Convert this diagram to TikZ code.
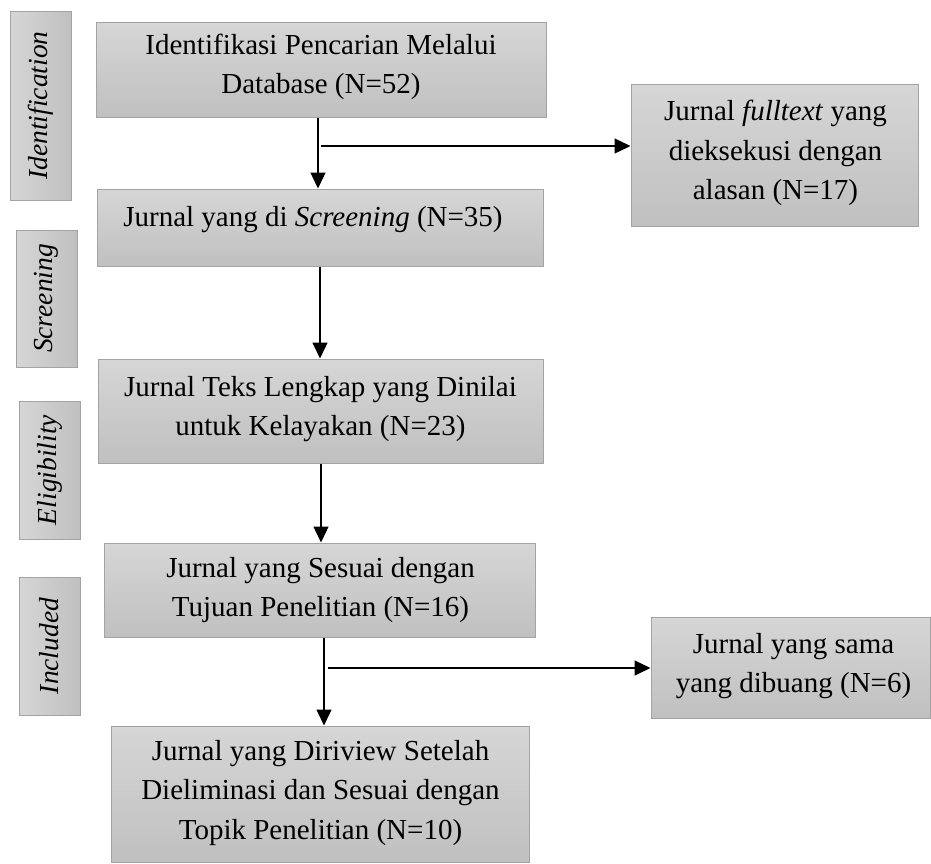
\documentclass[tikz,border=0pt]{standalone}
\usepackage{fontspec}
\setmainfont{Liberation Serif}
\usetikzlibrary{arrows.meta}
\definecolor{boxtop}{HTML}{D6D6D6}
\definecolor{boxbot}{HTML}{C0C0C0}
\definecolor{boxline}{HTML}{A3A3A3}
\begin{document}
\begin{tikzpicture}[x=1pt,y=-1pt,
  box/.style={draw=boxline, line width=1pt, top color=boxtop, bottom color=boxbot, inner sep=0pt},
  side/.style={draw=boxline, line width=1pt, left color=boxtop, right color=boxbot, inner sep=0pt},
  txt/.style={font=\fontsize{29}{39.5}\selectfont, align=center, inner sep=0pt},
  stxt/.style={font=\fontsize{27.5}{33}\selectfont\itshape, rotate=90, inner sep=0pt},
  arr/.style={line width=1.3pt, -{Triangle[length=16pt,width=15pt]}},
]
\useasboundingbox (0,0) rectangle (931,863);

% side phase boxes
\node[side, minimum width=61pt, minimum height=189pt] (s1) at (40.5,105.5) {};
\node[side, minimum width=61pt, minimum height=137pt] (s2) at (46.5,298.5) {};
\node[side, minimum width=61pt, minimum height=138pt] (s3) at (49.5,470) {};
\node[side, minimum width=61pt, minimum height=138pt] (s4) at (49.5,646) {};
\node[stxt] (s1t) at (s1.center) {Identification};
\node[stxt] (s2t) at (s2.center) {Screening};
\node[stxt] (s3t) at (s3.center) {Eligibility};
\node[stxt] (s4t) at (s4.center) {Included};

% main boxes
\node[box, minimum width=450pt, minimum height=95pt] (b1) at (321,69.5) {};
\node[box, minimum width=446pt, minimum height=77pt] (b2) at (320,227.5) {};
\node[box, minimum width=445pt, minimum height=104pt] (b3) at (320.5,411) {};
\node[box, minimum width=431pt, minimum height=94pt] (b4) at (319.5,590) {};
\node[box, minimum width=418pt, minimum height=136pt] (b5) at (320,794) {};
\node[box, minimum width=287pt, minimum height=142pt] (r1) at (774.5,155) {};
\node[box, minimum width=279pt, minimum height=101pt] (r2) at (790.5,667.5) {};

% texts
\node[txt] (t1) at (321,67) {Identifikasi Pencarian Melalui\\Database (N=52)};
\node[txt] (t2) at (313,220) {Jurnal yang di \textit{Screening} (N=35)};
\node[txt] (t3) at (320.5,409) {Jurnal Teks Lengkap yang Dinilai\\untuk Kelayakan (N=23)};
\node[txt] (t4) at (320.5,590) {Jurnal yang Sesuai dengan\\Tujuan Penelitian (N=16)};
\node[txt] (t5) at (320.5,793) {Jurnal yang Diriview Setelah\\Dieliminasi dan Sesuai dengan\\Topik Penelitian (N=10)};
\node[txt] (t6) at (775.5,153) {Jurnal \textit{fulltext} yang\\dieksekusi dengan\\alasan (N=17)};
\node[txt] (t7) at (793.5,666) {Jurnal yang sama\\yang dibuang (N=6)};

% connectors
\draw[arr] ([xshift=-3pt]b1.south) -- ([xshift=-3pt]b1.south |- b2.north);
\coordinate (j1) at (321,146);
\draw[arr] (j1) -- (j1 -| r1.west);
\draw[arr] (b2.south) -- (b2.south |- b3.north);
\draw[arr] ([xshift=0.5pt]b3.south) -- ([xshift=0.5pt]b3.south |- b4.north);
\draw[arr] ([xshift=4.5pt]b4.south) -- ([xshift=4.5pt]b4.south |- b5.north);
\coordinate (j2) at (328,668);
\draw[arr] (j2) -- (j2 -| r2.west);
\end{tikzpicture}
\end{document}
